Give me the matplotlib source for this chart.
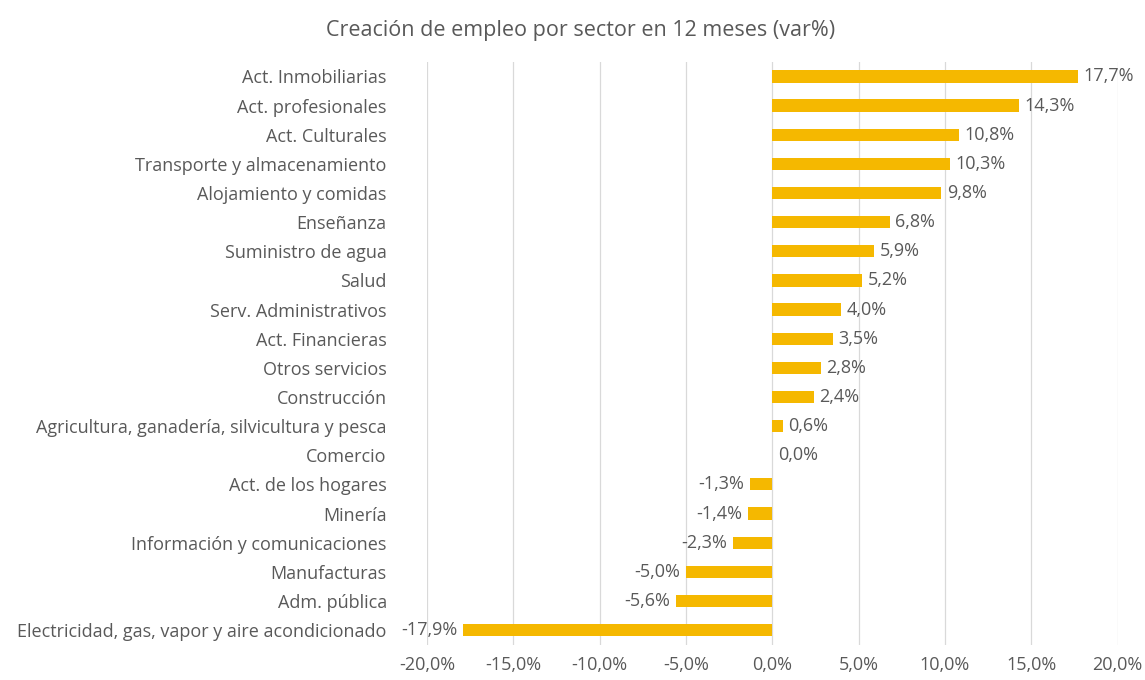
import matplotlib.pyplot as plt
import numpy as np

plt.rcParams["font.family"] = ["Open Sans", "DejaVu Sans"]
plt.rcParams["font.size"] = 13

# ----- Data -----
sectors = [
    "Act. Inmobiliarias",
    "Act. profesionales",
    "Act. Culturales",
    "Transporte y almacenamiento",
    "Alojamiento y comidas",
    "Enseñanza",
    "Suministro de agua",
    "Salud",
    "Serv. Administrativos",
    "Act. Financieras",
    "Otros servicios",
    "Construcción",
    "Agricultura, ganadería, silvicultura y pesca",
    "Comercio",
    "Act. de los hogares",
    "Minería",
    "Información y comunicaciones",
    "Manufacturas",
    "Adm. pública",
    "Electricidad, gas, vapor y aire acondicionado",
]
var_pct = [17.7, 14.3, 10.8, 10.3, 9.8, 6.8, 5.9, 5.2, 4.0, 3.5,
           2.8, 2.4, 0.6, 0.0, -1.3, -1.4, -2.3, -5.0, -5.6, -17.9]
x_ticks = [-20, -15, -10, -5, 0, 5, 10, 15, 20]

BAR = "#F5B800"
TXT = "#595959"
GRID = "#D9D9D9"


def fmt(v):
    return f"{v:.1f}%".replace(".", ",")


def main():
    fig = plt.figure(figsize=(11.45, 6.8), dpi=100)
    ax = fig.add_axes([0.373, 0.052, 0.603, 0.857])

    y = np.arange(len(sectors))
    ax.barh(y, var_pct, height=0.42, color=BAR, zorder=2)
    ax.set_ylim(len(sectors) - 0.5, -0.5)
    ax.set_xlim(-20, 20)
    ax.set_xticks(x_ticks)
    ax.set_xticklabels([fmt(t) for t in x_ticks], color=TXT)
    ax.set_yticks(y)
    ax.set_yticklabels(sectors, color=TXT)
    ax.tick_params(length=0)
    ax.tick_params(axis="y", pad=29)
    ax.tick_params(axis="x", pad=8)
    ax.grid(axis="x", color=GRID, linewidth=0.9, zorder=0)
    for s in ax.spines.values():
        s.set_visible(False)

    for yi, v in zip(y, var_pct):
        if v >= 0:
            ax.annotate(fmt(v), (v, yi), xytext=(4, 0), textcoords="offset points",
                        ha="left", va="center", color=TXT)
        else:
            ax.annotate(fmt(v), (v, yi), xytext=(-4, 0), textcoords="offset points",
                        ha="right", va="center", color=TXT)

    fig.text(0.507, 0.955, "Creación de empleo por sector en 12 meses (var%)",
             ha="center", va="center", fontsize=15.5, color=TXT)

    plt.savefig("out.png", dpi=100)


if __name__ == "__main__":
    main()
